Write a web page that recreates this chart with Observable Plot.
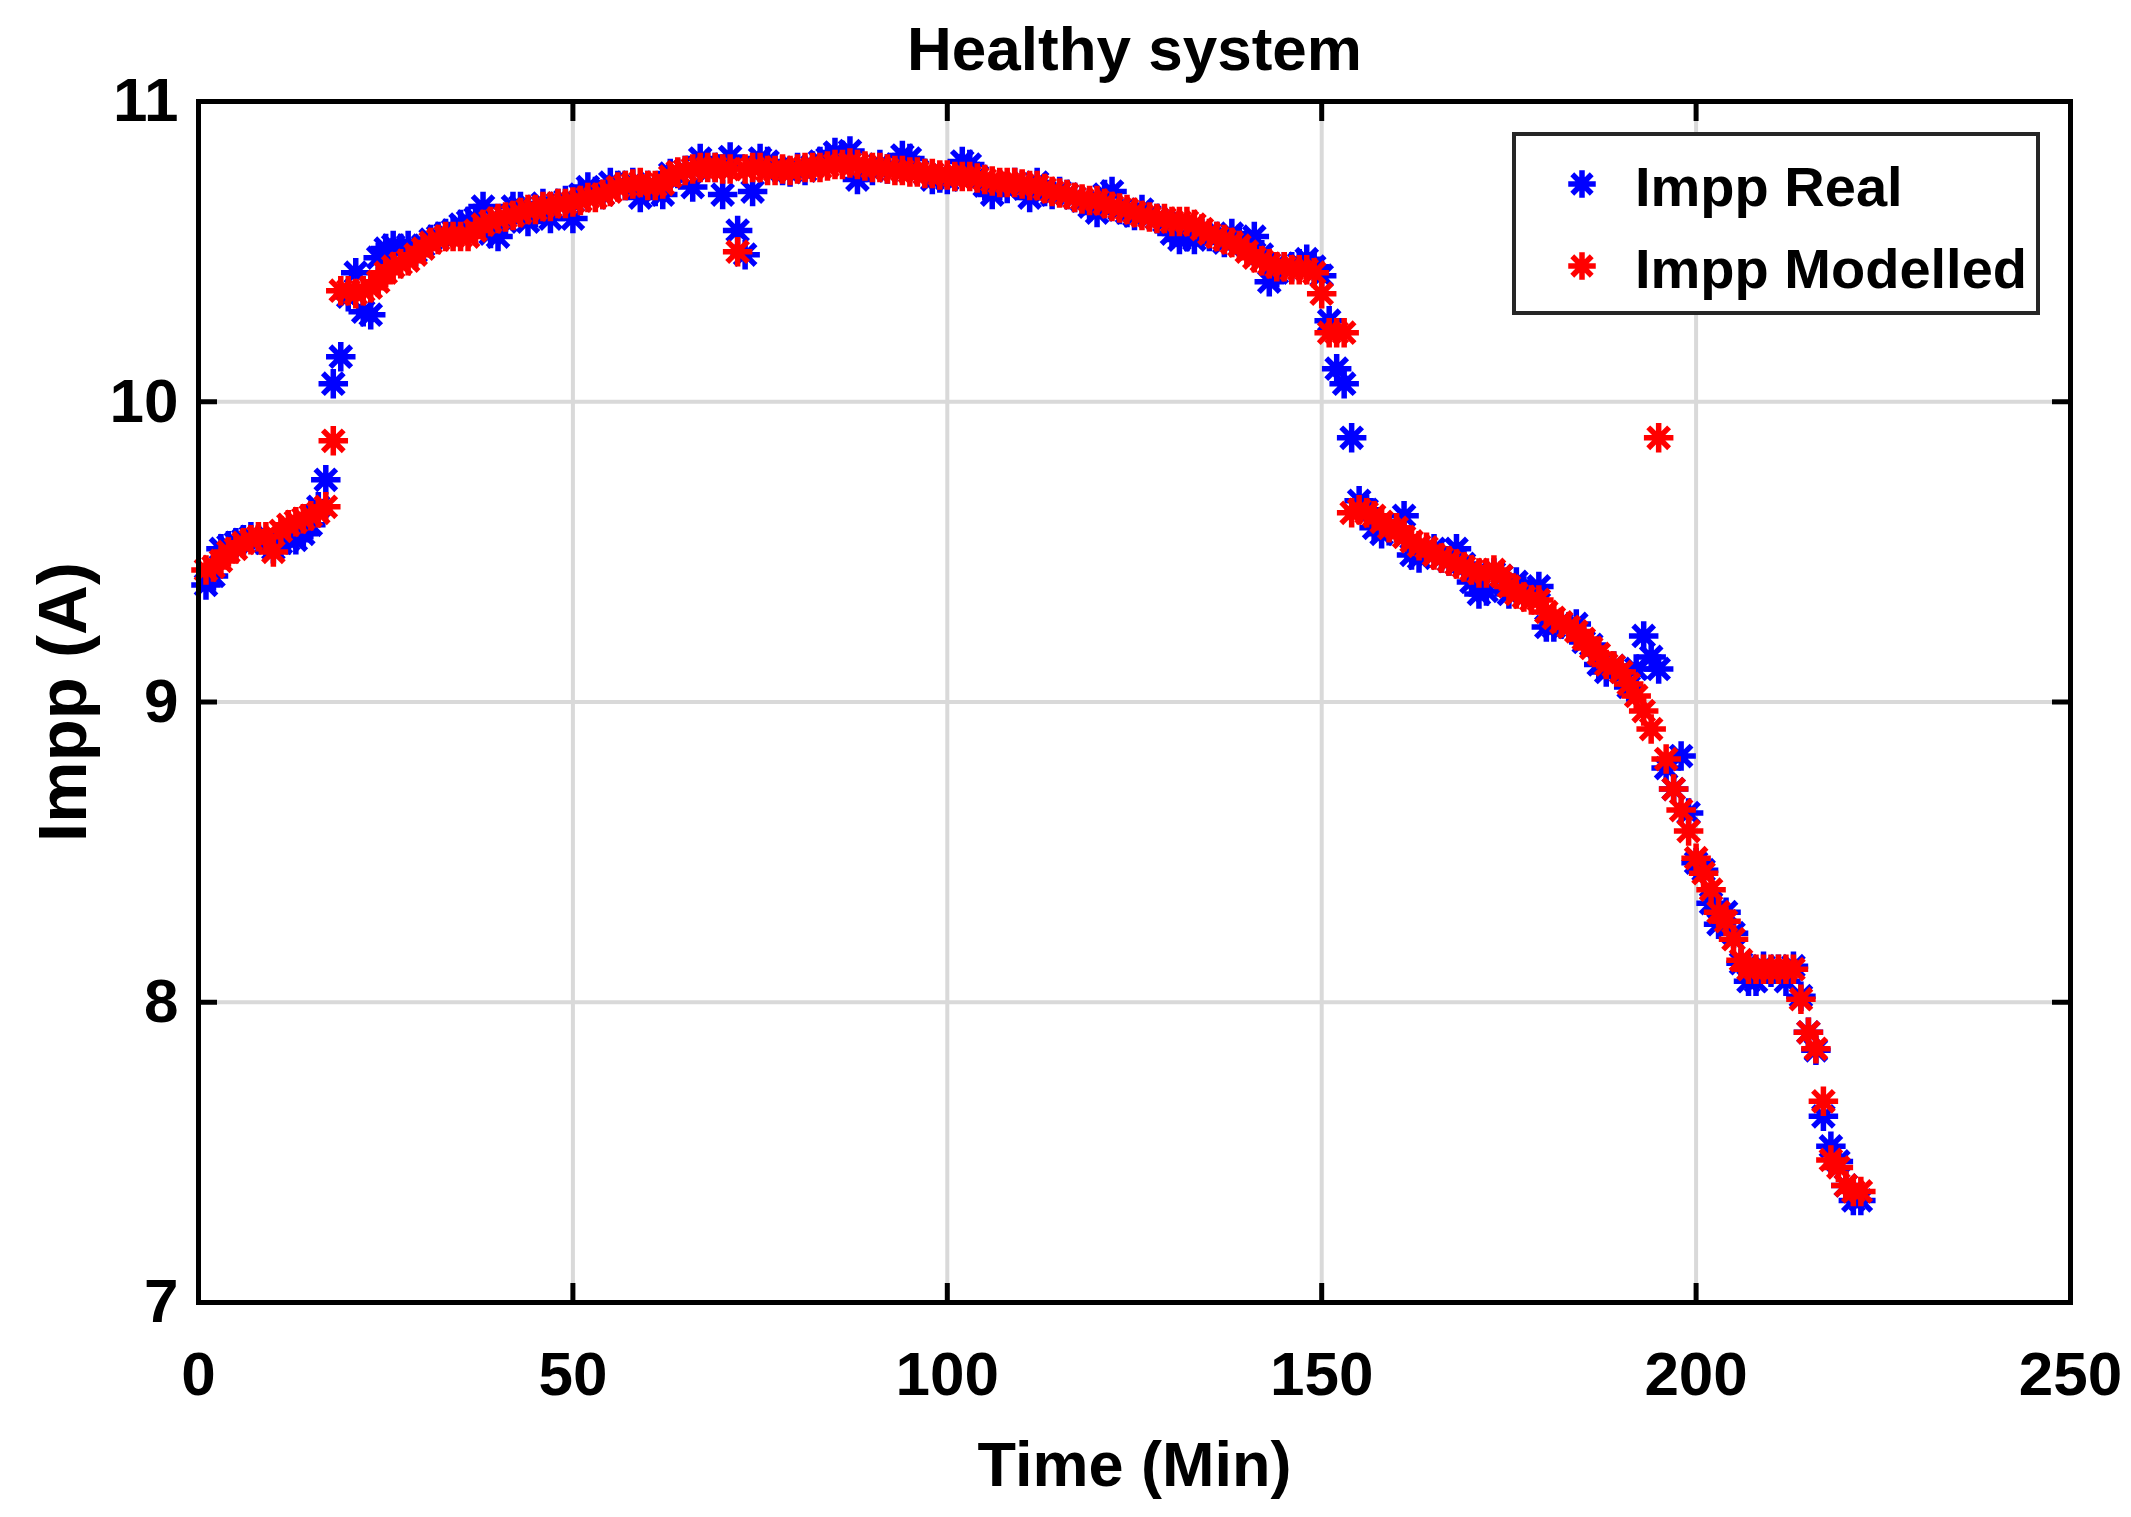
<!DOCTYPE html>
<html>
<head>
<meta charset="utf-8">
<script src="https://cdn.jsdelivr.net/npm/d3@7"></script>
<script src="https://cdn.jsdelivr.net/npm/@observablehq/plot@0.6"></script>
<style>
  html, body { margin: 0; padding: 0; background: #fff; }
  #chart { width: 2131px; height: 1517px; }
</style>
</head>
<body>
<div id="chart"></div>
<script>
// ---------- data ----------
const titleText = "Healthy system";
const xLabel = "Time (Min)";
const yLabel = "Impp (A)";
const seriesNames = ["Impp Real", "Impp Modelled"];
const seriesColors = ["#0000ff", "#ff0000"];
const xTicks = [0, 50, 100, 150, 200, 250];
const yTicks = [7, 8, 9, 10, 11];

// sample times (minutes)
const time = d3.range(1, 223);

// Impp Real (blue)
const imppReal = [
  9.39, 9.42, 9.51, 9.52, 9.53, 9.54, 9.55, 9.54, 9.53, 9.51,
  9.53, 9.54, 9.54, 9.56, 9.59, 9.65, 9.74, 10.06, 10.15, 10.35,
  10.43, 10.30, 10.29, 10.48, 10.51, 10.52, 10.51, 10.52, 10.50, 10.52,
  10.54, 10.55, 10.56, 10.57, 10.59, 10.60, 10.61, 10.65, 10.56, 10.55,
  10.60, 10.65, 10.65, 10.60, 10.63, 10.66, 10.61, 10.66, 10.67, 10.61,
  10.69, 10.715, 10.70, 10.69, 10.73, 10.72, 10.72, 10.73, 10.68, 10.72,
  10.70, 10.69, 10.76, 10.76, 10.77, 10.715, 10.81, 10.79, 10.78, 10.69,
  10.815, 10.57, 10.49, 10.70, 10.81, 10.80, 10.78, 10.77, 10.765, 10.78,
  10.77, 10.785, 10.80, 10.81, 10.83, 10.82, 10.835, 10.74, 10.78, 10.77,
  10.79, 10.775, 10.78, 10.82, 10.81, 10.77, 10.76, 10.74, 10.745, 10.74,
  10.75, 10.80, 10.79, 10.75, 10.72, 10.69, 10.72, 10.71, 10.73, 10.72,
  10.68, 10.73, 10.70, 10.69, 10.70, 10.69, 10.68, 10.67, 10.65, 10.63,
  10.69, 10.70, 10.64, 10.63, 10.62, 10.64, 10.62, 10.61, 10.60, 10.56,
  10.54, 10.55, 10.54, 10.56, 10.55, 10.55, 10.53, 10.56, 10.54, 10.52,
  10.55, 10.49, 10.40, 10.43, 10.45, 10.45, 10.46, 10.475, 10.45, 10.42,
  10.27, 10.11, 10.06, 9.88, 9.67, 9.64, 9.58, 9.56, 9.57, 9.58,
  9.62, 9.49, 9.48, 9.50, 9.51, 9.48, 9.47, 9.51, 9.46, 9.40,
  9.36, 9.37, 9.43, 9.42, 9.36, 9.40, 9.37, 9.36, 9.385, 9.25,
  9.25, 9.26, 9.25, 9.26, 9.20, 9.19, 9.125, 9.10, 9.12, 9.10,
  9.05, 9.11, 9.22, 9.15, 9.11, 8.78, 8.71, 8.82, 8.63, 8.465,
  8.44, 8.33, 8.26, 8.30, 8.23, 8.13, 8.07, 8.07, 8.12, 8.10,
  8.11, 8.07, 8.12, 8.02, 7.90, 7.84, 7.62, 7.52, 7.47, 7.39,
  7.34, 7.34
];

// Impp Modelled (red)
const imppModelled = [
  9.44, 9.45, 9.47, 9.50, 9.51, 9.53, 9.54, 9.55, 9.55, 9.50,
  9.57, 9.59, 9.60, 9.61, 9.62, 9.63, 9.65, 9.87, 10.37, 10.37,
  10.36, 10.37, 10.38, 10.40, 10.43, 10.45, 10.46, 10.47, 10.49, 10.51,
  10.53, 10.54, 10.55, 10.55, 10.55, 10.55, 10.57, 10.59, 10.60, 10.61,
  10.615, 10.62, 10.63, 10.64, 10.64, 10.65, 10.65, 10.66, 10.66, 10.665,
  10.67, 10.68, 10.68, 10.69, 10.70, 10.715, 10.72, 10.725, 10.73, 10.72,
  10.72, 10.725, 10.75, 10.765, 10.77, 10.775, 10.78, 10.78, 10.78, 10.775,
  10.775, 10.50, 10.775, 10.78, 10.78, 10.77, 10.77, 10.775, 10.77, 10.775,
  10.78, 10.78, 10.78, 10.785, 10.79, 10.79, 10.795, 10.79, 10.785, 10.78,
  10.78, 10.775, 10.77, 10.77, 10.765, 10.765, 10.76, 10.76, 10.755, 10.755,
  10.75, 10.75, 10.75, 10.745, 10.74, 10.735, 10.73, 10.73, 10.73, 10.725,
  10.72, 10.72, 10.71, 10.70, 10.695, 10.69, 10.68, 10.675, 10.67, 10.67,
  10.66, 10.65, 10.645, 10.64, 10.63, 10.62, 10.615, 10.61, 10.61, 10.60,
  10.60, 10.60, 10.59, 10.575, 10.56, 10.55, 10.54, 10.53, 10.52, 10.50,
  10.48, 10.47, 10.46, 10.45, 10.45, 10.44, 10.44, 10.44, 10.43, 10.36,
  10.23, 10.23, 10.23, 9.63, 9.64, 9.63, 9.62, 9.60, 9.58, 9.58,
  9.55, 9.535, 9.52, 9.515, 9.49, 9.48, 9.47, 9.46, 9.45, 9.44,
  9.43, 9.43, 9.44, 9.42, 9.385, 9.36, 9.35, 9.34, 9.34, 9.30,
  9.28, 9.265, 9.25, 9.235, 9.21, 9.18, 9.16, 9.125, 9.12, 9.10,
  9.06, 9.02, 8.97, 8.91, 9.88, 8.81, 8.71, 8.64, 8.57, 8.48,
  8.43, 8.375, 8.30, 8.27, 8.21, 8.14, 8.11, 8.11, 8.11, 8.11,
  8.11, 8.11, 8.11, 8.01, 7.90, 7.845, 7.67, 7.475, 7.45, 7.39,
  7.37, 7.37
];

// ---------- build ----------
const realRows = time.map((t, i) => ({t, v: imppReal[i]}));
const modelRows = time.map((t, i) => ({t, v: imppModelled[i]}));

// MATLAB-like '*' marker: plus + cross
const asterisk8 = {
  draw(context, size) {
    const r = Math.sqrt(size / Math.PI);
    const d = r * Math.SQRT1_2;
    context.moveTo(0, -r); context.lineTo(0, r);
    context.moveTo(-r, 0); context.lineTo(r, 0);
    context.moveTo(-d, -d); context.lineTo(d, d);
    context.moveTo(-d, d); context.lineTo(d, -d);
  }
};

const markerR = 12;
const markerW = 5.5;
const gridColor = "#d9d9d9";
const tickLen = -19;

const chart = Plot.plot({
  width: 2131,
  height: 1517,
  marginLeft: 198,
  marginRight: 61,
  marginTop: 101,
  marginBottom: 215,
  style: {
    fontFamily: "'Liberation Sans', Arial, Helvetica, sans-serif",
    fontWeight: "bold",
    fontSize: "62px",
    color: "black",
    background: "white"
  },
  x: {domain: [0, 250]},
  y: {domain: [7, 11]},
  marks: [
    Plot.gridX(xTicks.filter(d => d > 0 && d < 250), {stroke: gridColor, strokeOpacity: 1, strokeWidth: 4}),
    Plot.gridY(yTicks.filter(d => d > 7 && d < 11), {stroke: gridColor, strokeOpacity: 1, strokeWidth: 4}),
    Plot.dot(realRows, {x: "t", y: "v", symbol: asterisk8, r: markerR, fill: "none", stroke: seriesColors[0], strokeWidth: markerW, strokeLinecap: "square"}),
    Plot.dot(modelRows, {x: "t", y: "v", symbol: asterisk8, r: markerR, fill: "none", stroke: seriesColors[1], strokeWidth: markerW, strokeLinecap: "square"}),
    Plot.frame({stroke: "black", strokeWidth: 5}),
    Plot.axisX(xTicks, {anchor: "bottom", tickSize: 0, tickPadding: 48, label: null, fontSize: 62, tickFormat: d3.format("d")}),
    Plot.axisX(xTicks, {anchor: "bottom", tickSize: tickLen, fill: "none", stroke: "black", strokeWidth: 5, label: null}),
    Plot.axisX(xTicks, {anchor: "top", tickSize: tickLen, fill: "none", stroke: "black", strokeWidth: 5, label: null}),
    Plot.axisY(yTicks, {anchor: "left", tickSize: 0, tickPadding: 20, label: null, fontSize: 62, tickFormat: d3.format("d")}),
    Plot.axisY(yTicks, {anchor: "left", tickSize: tickLen, fill: "none", stroke: "black", strokeWidth: 5, label: null}),
    Plot.axisY(yTicks, {anchor: "right", tickSize: tickLen, fill: "none", stroke: "black", strokeWidth: 5, label: null}),
    Plot.text([titleText], {frameAnchor: "top", dy: -51, lineAnchor: "middle", textAnchor: "middle", fontSize: 62, fontWeight: "bold"}),
    Plot.text([xLabel], {frameAnchor: "bottom", dy: 163, lineAnchor: "middle", textAnchor: "middle", fontSize: 63, fontWeight: "bold"}),
    Plot.text([yLabel], {frameAnchor: "left", dx: -135, rotate: -90, lineAnchor: "middle", textAnchor: "middle", fontSize: 69, fontWeight: "bold"})
  ]
});

// ---------- legend ----------
const svg = d3.select(chart);
const lg = svg.append("g").attr("class", "legend").attr("text-anchor", "start");
lg.append("rect")
  .attr("x", 1514).attr("y", 134).attr("width", 524).attr("height", 179)
  .attr("fill", "white").attr("stroke", "#262626").attr("stroke-width", 4);
const rowsY = [184, 266];
const symPath = d3.symbol(asterisk8, Math.PI * 11 * 11)();
seriesNames.forEach((name, i) => {
  lg.append("path")
    .attr("d", symPath)
    .attr("transform", `translate(1582,${rowsY[i]})`)
    .attr("fill", "none")
    .attr("stroke", seriesColors[i])
    .attr("stroke-width", markerW)
    .attr("stroke-linecap", "square");
  lg.append("text")
    .attr("x", 1635).attr("y", rowsY[i] + 2)
    .attr("dy", "0.35em")
    .attr("text-anchor", "start")
    .attr("font-size", 56)
    .attr("font-weight", "bold")
    .attr("fill", "black")
    .text(name);
});

document.getElementById("chart").appendChild(chart);
</script>
</body>
</html>
